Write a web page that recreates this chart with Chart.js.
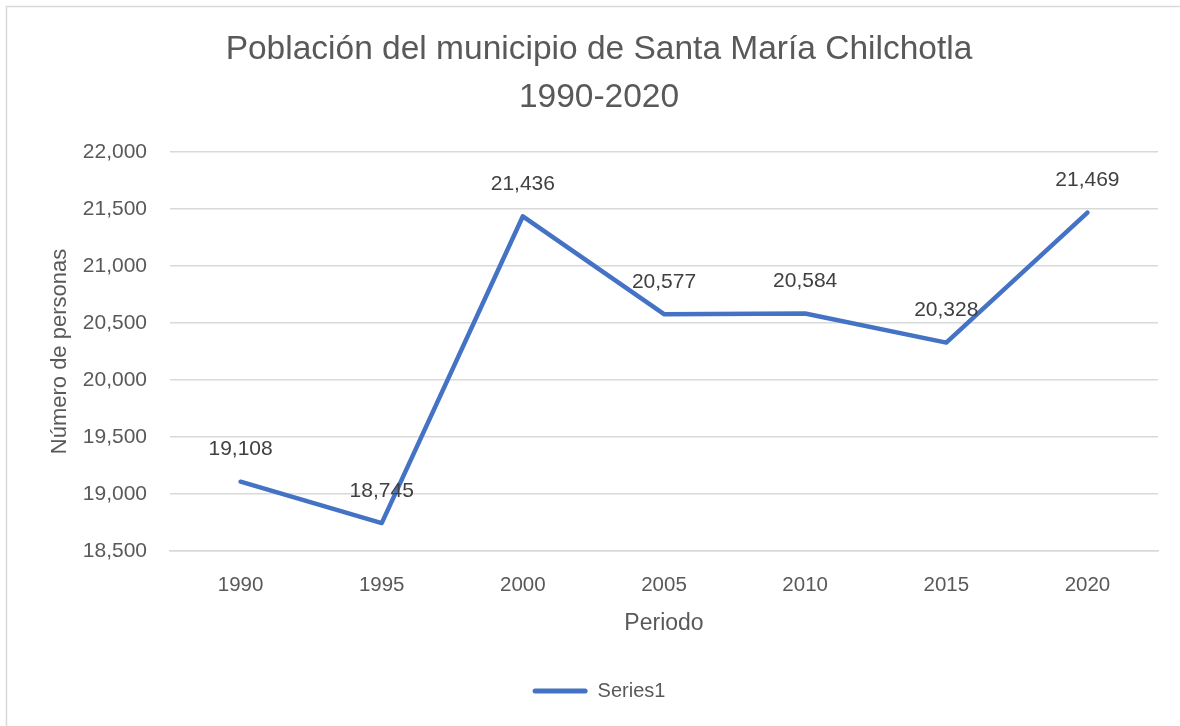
<!DOCTYPE html>
<html>
<head>
<meta charset="utf-8">
<script src="https://cdn.jsdelivr.net/npm/chart.js@4/dist/chart.umd.min.js"></script>
<style>
html,body{margin:0;padding:0;background:#fff;}
#wrap{position:relative;width:1180px;height:726px;}
</style>
</head>
<body>
<div id="wrap"><canvas id="c" width="1180" height="726"></canvas></div>
<script>
const categories = ['1990','1995','2000','2005','2010','2015','2020'];
const poblacion = [19108, 18745, 21436, 20577, 20584, 20328, 21469];
const titleLines = ['Población del municipio de Santa María Chilchotla', '1990-2020'];
const yTitle = 'Número de personas';
const xTitle = 'Periodo';
const seriesName = 'Series1';

const FONT = "'Liberation Sans', Arial, sans-serif";
const TXT = '#595959';

const frame = {
  id: 'frame',
  beforeDraw(chart) {
    const ctx = chart.ctx;
    ctx.save();
    ctx.strokeStyle = '#d9d9d9';
    ctx.lineWidth = 1.5;
    ctx.strokeRect(6.5, 6.5, 1300, 1300);
    ctx.restore();
  }
};

const dataLabels = {
  id: 'dataLabels',
  afterDatasetsDraw(chart) {
    const ctx = chart.ctx;
    const meta = chart.getDatasetMeta(0);
    const ds = chart.data.datasets[0];
    ctx.save();
    ctx.font = "21px " + FONT;
    ctx.fillStyle = '#404040';
    ctx.textAlign = 'center';
    ctx.textBaseline = 'middle';
    meta.data.forEach((pt, i) => {
      ctx.fillText(ds.data[i].toLocaleString('en-US'), pt.x, pt.y - 32);
    });
    ctx.restore();
  }
};

new Chart(document.getElementById('c'), {
  type: 'line',
  data: {
    labels: categories,
    datasets: [{
      label: seriesName,
      data: poblacion,
      borderColor: '#4472C4',
      backgroundColor: '#4472C4',
      borderWidth: 4.5,
      pointRadius: 0,
      borderJoinStyle: 'round',
      borderCapStyle: 'round',
      tension: 0
    }]
  },
  options: {
    responsive: false,
    animation: false,
    locale: 'en-US',
    layout: { padding: { top: 0, right: 22, bottom: 15, left: 40 } },
    plugins: {
      tooltip: { enabled: false },
      title: {
        display: true,
        text: titleLines,
        color: TXT,
        font: { family: FONT, size: 33.5, weight: 'normal', lineHeight: 48 / 33.5 },
        padding: { top: 26, bottom: 30 }
      },
      legend: {
        display: true,
        position: 'bottom',
        labels: {
          color: TXT,
          font: { family: FONT, size: 20 },
          boxWidth: 55,
          boxHeight: 5,
          useBorderRadius: true,
          borderRadius: 2.5,
          padding: 10,
          generateLabels(chart) {
            const items = Chart.defaults.plugins.legend.labels.generateLabels(chart);
            items.forEach(it => { it.lineWidth = 0; it.fillStyle = '#4472C4'; });
            return items;
          }
        }
      }
    },
    scales: {
      x: {
        offset: true,
        grid: { display: false, drawTicks: false },
        border: { display: true, color: '#d9d9d9', width: 1.5 },
        ticks: { color: TXT, font: { family: FONT, size: 20.5 }, padding: 22 },
        title: {
          display: true, text: xTitle, color: TXT,
          font: { family: FONT, size: 23, lineHeight: 1.2 },
          padding: { top: 0, bottom: 34 }
        },
        afterFit(s) { s.height = 120; }
      },
      y: {
        min: 18500, max: 22000,
        grid: { color: '#d9d9d9', lineWidth: 1.5, drawTicks: false },
        border: { display: false },
        ticks: { stepSize: 500, color: TXT, font: { family: FONT, size: 21 }, padding: 23 },
        title: {
          display: true, text: yTitle, color: TXT,
          font: { family: FONT, size: 22, lineHeight: 1.2 },
          padding: { top: 7, bottom: 0 }
        },
        afterFit(s) { s.width = 130; }
      }
    }
  },
  plugins: [frame, dataLabels]
});
</script>
</body>
</html>
